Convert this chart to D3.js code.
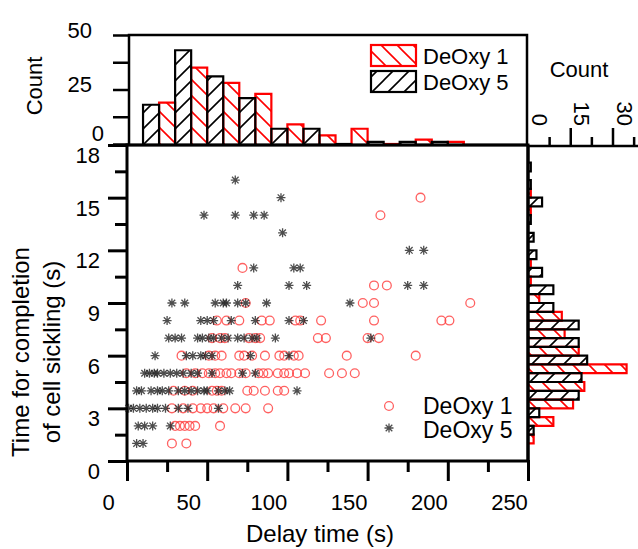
<!DOCTYPE html>
<html>
<head>
<meta charset="utf-8">
<script src="https://cdn.jsdelivr.net/npm/d3@7"></script>
<style>
  body { margin: 0; background: #fff; }
  text { font-family: "Liberation Sans", Arial, sans-serif; fill: #000; }
</style>
</head>
<body>
<svg id="chart" width="638" height="549"></svg>
<script>
// ---- data ----
var delayTicks = [0, 50, 100, 150, 200, 250];
var timeTicks = [0, 3, 6, 9, 12, 15, 18];
var topCountTicks = [0, 25, 50];
var rightCountTicks = [0, 15, 30];
var seriesNames = ["DeOxy 1", "DeOxy 5"];

// top histogram: 20 s bins, DeOxy 5 in left half, DeOxy 1 in right half
var delayBinStarts = [10, 30, 50, 70, 90, 110, 130, 150, 170, 190];
var deoxy5DelayCounts = [18, 43, 31, 21, 7, 7, 0, 1, 1, 1];
var deoxy1DelayCounts = [19, 35, 28, 23, 9, 4, 7, 0, 2, 1];

// right histogram: 1 s bins, DeOxy 1 in lower half, DeOxy 5 in upper half
var timeBinStarts = [1, 2, 3, 4, 5, 6, 7, 8, 9, 10, 11, 12, 13, 14, 15, 16];
var deoxy5TimeCounts = [2, 4, 18, 19, 21, 18, 18, 9, 9, 5, 3, 2, 1, 5, 1, 1];
var deoxy1TimeCounts = [2, 9, 16, 20, 35, 18, 13, 12, 4, 1, 1, 0, 0, 1, 1, 0];

// scatter: [delay (s), completion time (s)]
var deoxy1Points = [
  [28, 1], [37, 1],
  [30, 2], [33, 2], [36, 2], [39, 2], [42.5, 2], [58, 2],
  [28, 3], [35, 3], [41, 3], [46, 3], [50, 3], [54, 3], [60, 3], [67.5, 3], [74, 3], [88, 3],
  [29, 4], [36, 4], [41, 4], [53, 4], [56, 4], [59, 4], [75, 4], [79, 4], [86, 4], [94, 4], [98, 4],
  [37, 5], [42.5, 5], [47, 5], [51, 5], [55, 5], [58, 5], [62, 5], [65, 5], [70, 5], [74, 5],
  [82, 5], [85, 5], [88, 5], [94, 5], [98, 5], [101, 5], [106, 5], [111, 5], [126, 5], [134, 5], [142, 5],
  [34, 6], [51, 6], [55, 6], [59, 6], [70, 6], [73, 6], [78, 6], [86, 6], [95, 6], [98, 6],
  [104, 6], [107, 6], [137, 6], [180, 6],
  [53, 7], [58, 7], [61, 7], [76, 7], [80, 7], [83, 7], [119, 7], [124, 7], [150, 7], [157, 7],
  [56, 8], [62, 8], [70, 8], [84, 8], [89, 8], [105, 8], [108, 8], [121, 8], [154, 8], [196, 8], [201, 8],
  [74, 9], [147, 9], [154, 9], [214, 9],
  [154, 10], [162, 10],
  [72, 11],
  [158, 14],
  [183, 15]
];
var deoxy5Points = [
  [6, 1], [10, 1],
  [7, 2], [11, 2], [16, 2], [27, 2],
  [1, 3], [4, 3], [8, 3], [12, 3], [16, 3], [19, 3], [24, 3], [32, 3], [38, 3], [57, 3],
  [6, 4], [9, 4], [15, 4], [19, 4], [22, 4], [26, 4], [32, 4], [36, 4], [40, 4], [44, 4],
  [48, 4], [50, 4], [57, 4], [61, 4], [64, 4], [106, 4],
  [11, 5], [14, 5], [17, 5], [19, 5], [23, 5], [27, 5], [31, 5], [35, 5], [40, 5], [44, 5], [53, 5], [72, 5], [80, 5],
  [17.5, 6], [37, 6], [41, 6], [46, 6], [49, 6], [53, 6], [77, 6], [101, 6],
  [26, 7], [30, 7], [34, 7], [44, 7], [47, 7], [51, 7], [54, 7], [59, 7], [63, 7], [69, 7],
  [73, 7], [78, 7], [81, 7], [92.5, 7], [152, 7],
  [25, 8], [46, 8], [50, 8], [54, 8], [65, 8], [80, 8], [101, 8], [110, 8],
  [28, 9], [36, 9], [55, 9], [60, 9], [62, 9], [69, 9], [74, 9], [87, 9], [139, 9],
  [69, 10], [101, 10], [112, 10], [175, 10], [185, 10],
  [79, 11], [104, 11], [108, 11],
  [176, 12], [185, 12],
  [97, 13],
  [48, 14], [67.5, 14], [79, 14], [85.5, 14],
  [96, 15],
  [67.5, 16]
];

// ---- scales ----
var svg = d3.select("#chart");
var x = d3.scaleLinear().domain([0, 250]).range([127, 528]);
var y = d3.scaleLinear().domain([0, 18]).range([461, 145]);
var yTop = d3.scaleLinear().domain([0, 50]).range([144, 35]);
var xRight = d3.scaleLinear().domain([0, 30]).range([528, 612.5]);
var RED = "#ff0000";

// hatch fills
var defs = svg.append("defs");
function hatch(id, color, rising) {
  var d = rising
    ? "M-4,4L4,-4M0,16L16,0M12,20L20,12"
    : "M-4,12L4,20M0,0L16,16M12,-4L20,4";
  defs.append("pattern")
    .attr("id", id)
    .attr("patternUnits", "userSpaceOnUse")
    .attr("width", 16).attr("height", 16)
    .append("path")
    .attr("d", d)
    .attr("stroke", color)
    .attr("stroke-width", 1.6);
}
hatch("hatchRed", RED, false);
hatch("hatchBlack", "#000", true);

// ---- top histogram ----
var topG = svg.append("g");
var topBins = delayBinStarts.map(function(b, i) {
  return { start: b, d5: deoxy5DelayCounts[i], d1: deoxy1DelayCounts[i] };
});
topG.selectAll("path.red").data(topBins).enter().append("path")
  .attr("class", "red")
  .attr("d", function(d) {
    return "M" + x(d.start + 10) + "," + yTop(0) + "V" + yTop(d.d1) + "H" + x(d.start + 20) + "V" + yTop(0);
  })
  .attr("fill", "url(#hatchRed)").attr("stroke", RED).attr("stroke-width", 2.2);
topG.selectAll("path.black").data(topBins).enter().append("path")
  .attr("class", "black")
  .attr("d", function(d) {
    return "M" + x(d.start) + "," + yTop(0) + "V" + yTop(d.d5) + "H" + x(d.start + 10) + "V" + yTop(0);
  })
  .attr("fill", "url(#hatchBlack)").attr("stroke", "#000").attr("stroke-width", 2.2);

topG.append("rect")
  .attr("x", 129).attr("y", 35).attr("width", 398).attr("height", 110)
  .attr("fill", "none").attr("stroke", "#000").attr("stroke-width", 2.5);

var topAxis = topG.append("g").attr("transform", "translate(129,0)")
  .call(d3.axisLeft(yTop).tickValues([0, 12.5, 25, 37.5, 50]).tickSize(16)
    .tickFormat(function(d) { return topCountTicks.indexOf(d) >= 0 ? d : ""; }));
topAxis.select(".domain").remove();
topAxis.selectAll(".tick line").attr("stroke-width", 2.5);
topAxis.selectAll(".tick text")
  .attr("font-size", 22).attr("font-family", "Liberation Sans, Arial, sans-serif")
  .attr("x", function(d) { return d === 0 ? -25 : -37; })
  .attr("dy", null)
  .attr("y", function(d) { return d === 0 ? -4 : 2; });

svg.append("text")
  .attr("transform", "translate(42,86) rotate(-90)")
  .attr("text-anchor", "middle").attr("font-size", 22)
  .text("Count");

// top legend
var legendRows = [
  { name: seriesNames[0], fill: "url(#hatchRed)", stroke: RED, y: 45 },
  { name: seriesNames[1], fill: "url(#hatchBlack)", stroke: "#000", y: 71 }
];
var lg = svg.append("g").selectAll("g").data(legendRows).enter().append("g");
lg.append("rect")
  .attr("x", 371).attr("y", function(d) { return d.y; })
  .attr("width", 45).attr("height", 21)
  .attr("fill", function(d) { return d.fill; })
  .attr("stroke", function(d) { return d.stroke; }).attr("stroke-width", 2.2);
lg.append("text")
  .attr("x", 423).attr("y", function(d) { return d.y + 19; })
  .attr("font-size", 22)
  .text(function(d) { return d.name; });

// ---- right histogram ----
var rightG = svg.append("g");
var rightBins = timeBinStarts.map(function(b, i) {
  return { start: b, d5: deoxy5TimeCounts[i], d1: deoxy1TimeCounts[i] };
});
rightG.selectAll("path.red").data(rightBins.filter(function(d) { return d.d1 > 0; })).enter().append("path")
  .attr("d", function(d) {
    return "M" + xRight(0) + "," + y(d.start) + "H" + xRight(d.d1) + "V" + y(d.start + 0.5) + "H" + xRight(0);
  })
  .attr("fill", "url(#hatchRed)").attr("stroke", RED).attr("stroke-width", 2.2);
rightG.selectAll("path.black").data(rightBins.filter(function(d) { return d.d5 > 0; })).enter().append("path")
  .attr("d", function(d) {
    return "M" + xRight(0) + "," + y(d.start + 0.5) + "H" + xRight(d.d5) + "V" + y(d.start + 1) + "H" + xRight(0);
  })
  .attr("fill", "url(#hatchBlack)").attr("stroke", "#000").attr("stroke-width", 2.2);

var rightAxis = rightG.append("g").attr("transform", "translate(0,146)")
  .call(d3.axisTop(xRight).tickValues([7.5, 15, 22.5, 30, 37.5]).tickSize(18)
    .tickFormat(function(d) { return rightCountTicks.indexOf(d) >= 0 ? d : ""; }));
rightAxis.select(".domain").remove();
rightAxis.selectAll(".tick line")
  .attr("y2", function(d) { return d % 15 ? -9 : -18; })
  .attr("stroke-width", 2.5);
rightAxis.selectAll(".tick text").remove();
rightG.selectAll("text.rc").data(rightCountTicks).enter().append("text")
  .attr("class", "rc")
  .attr("transform", function(d) { return "translate(" + (xRight(d) + 4) + ",126) rotate(90)"; })
  .attr("text-anchor", "end").attr("font-size", 22)
  .text(function(d) { return d; });
rightG.append("line")
  .attr("x1", 527).attr("x2", 638).attr("y1", 146).attr("y2", 146)
  .attr("stroke", "#000").attr("stroke-width", 2.5);
rightG.append("line")
  .attr("x1", 528).attr("x2", 528).attr("y1", 146).attr("y2", 461)
  .attr("stroke", "#000").attr("stroke-width", 3);
svg.append("text")
  .attr("x", 579).attr("y", 77)
  .attr("text-anchor", "middle").attr("font-size", 22)
  .text("Count");

// ---- scatter ----
var mainG = svg.append("g");
mainG.append("rect")
  .attr("x", 127).attr("y", 145).attr("width", 401).attr("height", 316)
  .attr("fill", "none").attr("stroke", "#000").attr("stroke-width", 3);

var star = "M-4.5,0H4.5M0,-4.5V4.5M-3.3,-3.3L3.3,3.3M-3.3,3.3L3.3,-3.3";
mainG.selectAll("circle.d1").data(deoxy1Points).enter().append("circle")
  .attr("cx", function(d) { return x(d[0]); })
  .attr("cy", function(d) { return y(d[1]); })
  .attr("r", 4.4)
  .attr("fill", "none").attr("stroke", "#ff3a3a").attr("stroke-width", 1.3).attr("opacity", 0.8);
mainG.selectAll("path.d5").data(deoxy5Points).enter().append("path")
  .attr("transform", function(d) { return "translate(" + x(d[0]) + "," + y(d[1]) + ")"; })
  .attr("d", star)
  .attr("fill", "none").attr("stroke", "#222").attr("stroke-width", 1.3).attr("opacity", 0.8);

// in-plot legend
var sl = mainG.append("g");
sl.append("circle").attr("cx", 389).attr("cy", 406).attr("r", 4.4)
  .attr("fill", "none").attr("stroke", "#ff3a3a").attr("stroke-width", 1.3).attr("opacity", 0.8);
sl.append("path").attr("transform", "translate(389,428)").attr("d", star)
  .attr("fill", "none").attr("stroke", "#222").attr("stroke-width", 1.3).attr("opacity", 0.8);
sl.selectAll("text").data(seriesNames).enter().append("text")
  .attr("x", 423).attr("y", function(d, i) { return 414 + i * 23.5; })
  .attr("font-size", 23)
  .text(function(d) { return d; });

// axes
var xAxisG = svg.append("g").attr("transform", "translate(0,460)")
  .call(d3.axisBottom(x).tickValues(d3.range(0, 251, 25)).tickSize(21)
    .tickFormat(function(d) { return delayTicks.indexOf(d) >= 0 ? d : ""; }));
xAxisG.select(".domain").remove();
xAxisG.selectAll(".tick line")
  .attr("y2", function(d) { return d % 50 ? 12 : 21; })
  .attr("stroke-width", 3);
xAxisG.selectAll(".tick text")
  .attr("font-size", 22).attr("font-family", "Liberation Sans, Arial, sans-serif")
  .attr("dy", null).attr("y", 50).attr("dx", -19);

var yAxisG = svg.append("g").attr("transform", "translate(128,0)")
  .call(d3.axisLeft(y).tickValues(d3.range(0, 18.1, 1.5)).tickSize(20)
    .tickFormat(function(d) { return timeTicks.indexOf(d) >= 0 ? d : ""; }));
yAxisG.select(".domain").remove();
yAxisG.selectAll(".tick line")
  .attr("x2", function(d) { return d % 3 ? -13 : -20; })
  .attr("stroke-width", 3);
yAxisG.selectAll(".tick text")
  .attr("font-size", 22).attr("font-family", "Liberation Sans, Arial, sans-serif")
  .attr("x", -28).attr("dy", null).attr("y", 17.5);

// titles
svg.append("text")
  .attr("x", 320).attr("y", 542)
  .attr("text-anchor", "middle").attr("font-size", 24)
  .text("Delay time (s)");
var yt = svg.append("text")
  .attr("transform", "translate(0,352) rotate(-90)")
  .attr("text-anchor", "middle").attr("font-size", 24);
yt.append("tspan").attr("x", 0).attr("y", 29).text("Time for completion");
yt.append("tspan").attr("x", 0).attr("y", 60).text("of cell sickling (s)");
</script>
</body>
</html>
